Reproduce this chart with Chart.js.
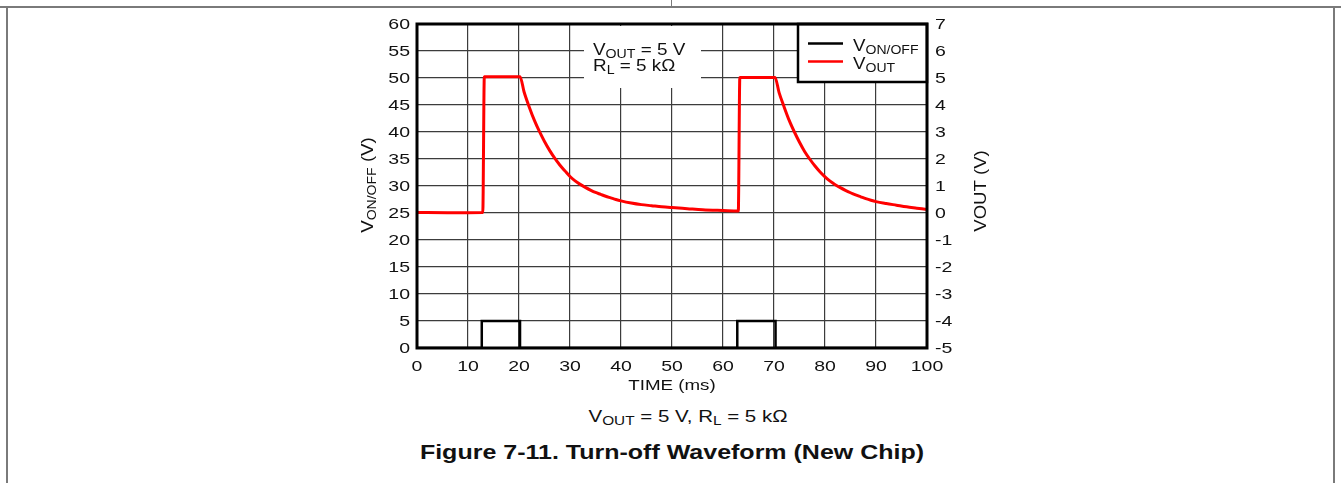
<!DOCTYPE html>
<html>
<head>
<meta charset="utf-8">
<script src="https://cdn.jsdelivr.net/npm/chart.js@4/dist/chart.umd.min.js"></script>
<style>
  html, body { margin: 0; padding: 0; background: #fff; }
  body { width: 1341px; height: 483px; position: relative; overflow: hidden; font-family: Arial, "Liberation Sans", sans-serif; }
  .rule { position: absolute; background: #7a7a7a; }
  #wrap { position: absolute; left: 0; top: 0; width: 1341px; height: 400px; }
  .caption { position: absolute; width: 800px; text-align: center; color: #111; white-space: nowrap; }
  #sub { left: 288px; top: 408px; font-size: 16px; transform: scaleX(1.28); }
  #fig { left: 272px; top: 441px; font-size: 20px; font-weight: bold; transform: scaleX(1.25); }
  sub { font-size: 12px; vertical-align: -3px; line-height: 0; }
</style>
</head>
<body>
<div class="rule" style="left:0; top:6px; width:1341px; height:2px;"></div>
<div class="rule" style="left:671px; top:0; width:1px; height:7px;"></div>
<div class="rule" style="left:6px; top:6px; width:2px; height:477px;"></div>
<div class="rule" style="left:1333px; top:6px; width:2px; height:477px;"></div>
<div id="wrap"><canvas id="chart" width="1341" height="400"></canvas></div>
<div class="caption" id="sub">V<sub>OUT</sub> = 5 V, R<sub>L</sub> = 5 kΩ</div>
<div class="caption" id="fig">Figure 7-11. Turn-off Waveform (New Chip)</div>

<script>
// ===== DATA =====
const tOut = [0, 6, 12.9, 13.2, 20.2, 21, 22, 23, 24, 25, 26, 27, 28, 29, 30, 31, 32, 33, 34, 35, 36, 37, 38, 39, 40,
              42, 44, 46, 48, 50, 53, 56, 60, 63.0,
              63.3, 70.2, 71, 72, 73, 74, 75, 76, 77, 78, 79, 80, 81, 82, 83, 84, 85, 86, 87, 88, 89, 90,
              92, 94, 96, 98, 100];
const vOut = [0.02, 0.01, 0.02, 5.05, 5.05, 4.48, 3.93, 3.44, 3.02, 2.65, 2.32, 2.03, 1.78, 1.56, 1.35, 1.19, 1.06, 0.95, 0.85, 0.76, 0.69, 0.62, 0.56, 0.5, 0.45,
              0.37, 0.31, 0.27, 0.23, 0.2, 0.16, 0.12, 0.09, 0.07,
              5.02, 5.02, 4.46, 3.92, 3.42, 3.0, 2.62, 2.28, 2.0, 1.75, 1.53, 1.34, 1.18, 1.05, 0.94, 0.84, 0.75, 0.67, 0.6, 0.53, 0.47, 0.42,
              0.35, 0.29, 0.23, 0.18, 0.13];

const tSwitch = [0, 12.7, 12.7, 20.2, 20.2, 62.8, 62.8, 70.3, 70.3, 100];
const vSwitch = [0, 0, 5, 5, 0, 0, 5, 5, 0, 0];

const timeTicks = [0, 10, 20, 30, 40, 50, 60, 70, 80, 90, 100];
const leftTicks = [0, 5, 10, 15, 20, 25, 30, 35, 40, 45, 50, 55, 60];
const rightTicks = [-5, -4, -3, -2, -1, 0, 1, 2, 3, 4, 5, 6, 7];

const FONT = 'Arial, "Liberation Sans", sans-serif';
const INK = '#111';
const toPts = (xs, ys) => xs.map((x, i) => ({ x: x, y: ys[i] }));

// the scan's lettering is wider than Arial, so text is drawn stretched
function wide(ctx, x, y, sx, fn) {
  ctx.save();
  ctx.translate(x, y);
  ctx.scale(sx, 1);
  fn();
  ctx.restore();
}

// V + OUT style text, drawn from (0,0)
function subText(ctx, main, sub, rest, size, align) {
  const small = Math.round(size * 0.75);
  ctx.font = size + 'px ' + FONT;
  const w1 = ctx.measureText(main).width, w3 = rest ? ctx.measureText(rest).width : 0;
  ctx.font = small + 'px ' + FONT;
  const w2 = ctx.measureText(sub).width;
  let x = align === 'center' ? -(w1 + w2 + w3) / 2 : 0;
  ctx.textAlign = 'left';
  ctx.font = size + 'px ' + FONT;
  ctx.fillText(main, x, 0);
  x += w1;
  ctx.font = small + 'px ' + FONT;
  ctx.fillText(sub, x, 3);
  x += w2;
  if (rest) {
    ctx.font = size + 'px ' + FONT;
    ctx.fillText(rest, x, 0);
  }
}

const decor = {
  id: 'decor',
  beforeDatasetsDraw(chart) {
    const ctx = chart.ctx, a = chart.chartArea;
    ctx.save();
    // note box
    ctx.fillStyle = '#fff';
    ctx.fillRect(584, a.top + 2, 117, 62);
    ctx.fillStyle = INK;
    ctx.textBaseline = 'alphabetic';
    wide(ctx, 593, 55, 1.18, () => subText(ctx, 'V', 'OUT', ' = 5 V', 16));
    wide(ctx, 593, 71, 1.18, () => subText(ctx, 'R', 'L', ' = 5 kΩ', 16));

    // legend box
    const lx = 798, ly = a.top, lw = a.right - 798, lh = 58;
    ctx.fillStyle = '#fff';
    ctx.fillRect(lx, ly, lw, lh);
    ctx.lineWidth = 2.5;
    ctx.strokeStyle = '#000';
    ctx.strokeRect(lx, ly, lw, lh);
    ctx.beginPath(); ctx.moveTo(808, 43.5); ctx.lineTo(843, 43.5); ctx.stroke();
    ctx.strokeStyle = '#ff0000';
    ctx.beginPath(); ctx.moveTo(808, 61.5); ctx.lineTo(843, 61.5); ctx.stroke();
    ctx.fillStyle = INK;
    wide(ctx, 853, 50.5, 1.17, () => subText(ctx, 'V', 'ON/OFF', '', 16));
    wide(ctx, 853, 69, 1.17, () => subText(ctx, 'V', 'OUT', '', 16));
    ctx.restore();
  },
  afterDatasetsDraw(chart) {
    const ctx = chart.ctx, a = chart.chartArea;
    const sx = chart.scales.x, sy = chart.scales.y, sy2 = chart.scales.y2;
    ctx.save();
    ctx.lineWidth = 3;
    ctx.strokeStyle = '#000';
    ctx.strokeRect(a.left, a.top, a.right - a.left, a.bottom - a.top);

    // tick labels, placed by the scales
    ctx.fillStyle = INK;
    ctx.font = '15px ' + FONT;
    ctx.textBaseline = 'middle';
    sx.ticks.forEach(t => {
      ctx.textAlign = 'center';
      wide(ctx, sx.getPixelForValue(t.value), 367, 1.3, () => ctx.fillText(String(t.value), 0, 0));
    });
    sy.ticks.forEach(t => {
      ctx.textAlign = 'right';
      wide(ctx, a.left - 7, sy.getPixelForValue(t.value) + 1, 1.3, () => ctx.fillText(String(t.value), 0, 0));
    });
    sy2.ticks.forEach(t => {
      ctx.textAlign = 'left';
      wide(ctx, a.right + 8, sy2.getPixelForValue(t.value) + 1, 1.3, () => ctx.fillText(String(t.value), 0, 0));
    });

    // axis titles
    ctx.textAlign = 'center';
    wide(ctx, (a.left + a.right) / 2, 386, 1.25, () => ctx.fillText('TIME (ms)', 0, 0));

    ctx.textBaseline = 'alphabetic';
    // side titles read bottom to top
    ctx.save();
    ctx.translate(373, 185);
    ctx.rotate(-Math.PI / 2);
    ctx.scale(1.17, 1);
    subText(ctx, 'V', 'ON/OFF', ' (V)', 16, 'center');
    ctx.restore();

    ctx.save();
    ctx.translate(986, 191);
    ctx.rotate(-Math.PI / 2);
    ctx.scale(1.16, 1);
    ctx.font = '16px ' + FONT;
    ctx.textAlign = 'center';
    ctx.fillText('VOUT (V)', 0, 0);
    ctx.restore();
    ctx.restore();
  }
};

new Chart(document.getElementById('chart').getContext('2d'), {
  type: 'line',
  data: {
    datasets: [
      {
        label: 'VON/OFF',
        data: toPts(tSwitch, vSwitch),
        yAxisID: 'y',
        borderColor: '#000',
        borderWidth: 2.5,
        pointRadius: 0,
        tension: 0
      },
      {
        label: 'VOUT',
        data: toPts(tOut, vOut),
        yAxisID: 'y2',
        borderColor: '#ff0000',
        borderWidth: 3,
        pointRadius: 0,
        cubicInterpolationMode: 'monotone'
      }
    ]
  },
  options: {
    responsive: false,
    animation: false,
    layout: { padding: { top: 24, bottom: 0, left: 0, right: 0 } },
    plugins: { legend: { display: false }, tooltip: { enabled: false } },
    scales: {
      x: {
        type: 'linear',
        min: 0, max: 100,
        afterBuildTicks: s => { s.ticks = timeTicks.map(v => ({ value: v })); },
        afterFit: s => { s.height = 52; },
        grid: { color: '#3c3c3c', lineWidth: 1.2, drawTicks: false },
        border: { display: false },
        ticks: { display: false }
      },
      y: {
        position: 'left',
        min: 0, max: 60,
        afterBuildTicks: s => { s.ticks = leftTicks.map(v => ({ value: v })); },
        afterFit: s => { s.width = 417; },
        grid: { color: '#3c3c3c', lineWidth: 1.2, drawTicks: false },
        border: { display: false },
        ticks: { display: false }
      },
      y2: {
        position: 'right',
        min: -5, max: 7,
        afterBuildTicks: s => { s.ticks = rightTicks.map(v => ({ value: v })); },
        afterFit: s => { s.width = 414; },
        grid: { display: false, drawTicks: false },
        border: { display: false },
        ticks: { display: false }
      }
    }
  },
  plugins: [decor]
});
</script>
</body>
</html>
